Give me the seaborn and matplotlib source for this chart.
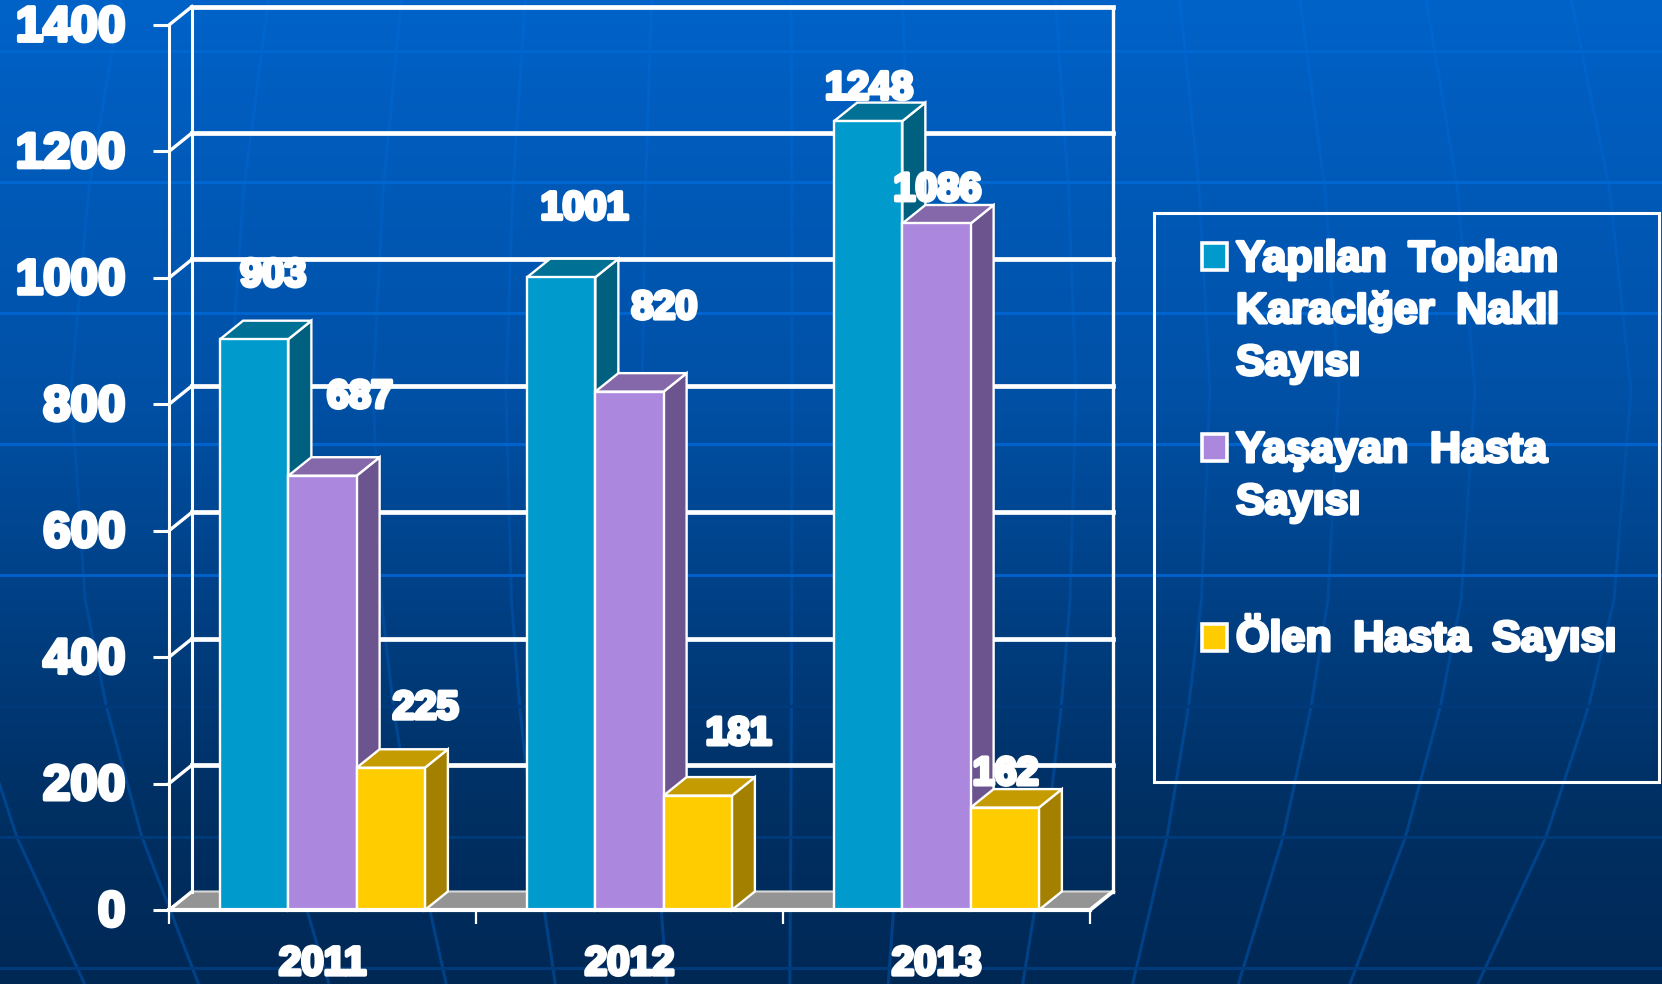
import numpy as np
import pandas as pd
import seaborn as sns
import matplotlib.pyplot as plt
import matplotlib.patheffects as pe
from matplotlib.collections import LineCollection
from matplotlib.patches import Polygon, Rectangle
from matplotlib.transforms import ScaledTranslation

W, H = 1662, 984

years = ["2011", "2012", "2013"]
toplam = [903, 1001, 1248]
yasayan = [687, 820, 1086]
olen = [225, 181, 162]
series_names = ["Yapılan Toplam Karaciğer Nakli Sayısı", "Yaşayan Hasta Sayısı", "Ölen Hasta Sayısı"]
y_ticks = [0, 200, 400, 600, 800, 1000, 1200, 1400]

front_colors = ["#009ACC", "#AB87DE", "#FFCC00"]
side_colors = ["#006080", "#6C558E", "#A38000"]
top_colors = ["#007095", "#8468A9", "#C49B00"]

# label offsets from each bar top, in pixels (per series, per year)
label_dx = [[19, 23.5, 1], [37.5, 35, 1], [35, 41, 1]]
label_dy = [[64, 69, 33], [79, 84, 34], [60, 62, 34]]

# backdrop: gradient stops, horizontal rules, globe meridians
grad_y = [0, 400, 600, 800, 984]
grad_r = [0, 0, 0, 0, 0]
grad_g = [98, 80, 64, 48, 40]
grad_b = [200, 165, 133, 100, 85]
rule_y = [50.7, 181.7, 312.7, 443.7, 574.7, 705.7, 836.7, 967.7]
rule_colors = ["#0066D0", "#0066D0", "#0064CE", "#0062CC", "#0060C8", "#003A7C", "#003A78", "#003A78"]
meridians = [-848, -709, -550, -407, -274, -138, 12, 132, 296, 430, 559, 695, 851]
bulge_y = [0, 190, 390, 600, 707, 837, 984]
bulge_f = [0.93, 0.975, 1.0, 0.98, 0.95, 0.90, 0.82]

sns.set_style("white")
plt.rcParams["font.family"] = ["Liberation Sans", "DejaVu Sans"]
plt.rcParams["font.weight"] = "bold"

fig = plt.figure(figsize=(W / 100, H / 100), dpi=100)


def bg_color(y):
    return np.stack([np.interp(y, grad_y, grad_r), np.interp(y, grad_y, grad_g), np.interp(y, grad_y, grad_b)], -1) / 255


# backdrop axes works in plain image pixels
bg = fig.add_axes([0, 0, 1, 1])
rows = np.arange(H)
bg.imshow(bg_color(rows)[:, None, :], aspect="auto", extent=[0, W, H, 0], zorder=0)
bg.set_xlim(0, W)
bg.set_ylim(H, 0)
bg.axis("off")

ys = np.arange(0, H + 8, 8.0)
for k in meridians:
    xs = 780 + k * np.interp(ys, bulge_y, bulge_f)
    pts = np.column_stack([xs, ys])
    segs = np.stack([pts[:-1], pts[1:]], 1)
    mid = (ys[:-1] + ys[1:]) / 2
    boost = np.interp(mid, [0, 500, 800, 984], [0.022, 0.03, 0.10, 0.12])
    cols = bg_color(mid)
    cols[:, 1] += boost * 0.8
    cols[:, 2] += boost * 1.6
    bg.add_collection(LineCollection(segs, colors=np.clip(cols, 0, 1), linewidths=2.2, zorder=1))
for y, c in zip(rule_y, rule_colors):
    bg.axhline(y, color=c, lw=2.2, zorder=2)

# chart axes, placed so the front plane sits where it does in the picture
ax = fig.add_axes([169 / W, 1 - 910 / H, (1090 - 169) / W, (910 - 25) / H])
ax.patch.set_alpha(0)

df = pd.DataFrame({
    "year": years * 3,
    "value": toplam + yasayan + olen,
    "series": sum([[s] * 3 for s in series_names], []),
})
sns.barplot(data=df, x="year", y="value", hue="series", hue_order=series_names, palette=front_colors,
            saturation=1, width=0.667, gap=0, legend=False, ax=ax, edgecolor="white", linewidth=1.7)
ax.set_xlim(-0.5, 2.5)
ax.set_ylim(0, 1400)
ax.set_xlabel("")
ax.set_ylabel("")

depth_x = 23 / 307
depth_y = 18.5 / 885 * 1400
line_kw = dict(color="white", clip_on=False, solid_capstyle="projecting")

# walls, floor and gridlines behind the bars
x0, x1 = -0.5, 2.5
floor = Polygon([(x0, 0), (x1, 0), (x1 + depth_x, depth_y), (x0 + depth_x, depth_y)], closed=True,
                facecolor="#949494", edgecolor="#d8d8d8", lw=1.5, clip_on=False, zorder=1)
ax.add_patch(floor)
for t in y_ticks:
    if t > 0:
        ax.plot([x0 + depth_x, x1 + depth_x], [t + depth_y, t + depth_y], lw=3.4, zorder=2, **line_kw)
    ax.plot([x0, x0 + depth_x], [t, t + depth_y], lw=2.4, zorder=2, **line_kw)
ax.plot([x0 + depth_x, x0 + depth_x], [depth_y, 1400 + depth_y], lw=2.2, zorder=2, **line_kw)
ax.plot([x1 + depth_x, x1 + depth_x], [depth_y, 1400 + depth_y], lw=2.4, zorder=2, **line_kw)
ax.plot([x1, x1 + depth_x], [0, depth_y], lw=2.8, zorder=2, **line_kw)

# extrude each seaborn bar; every label goes just under its own bar
outline = [pe.withStroke(linewidth=2.8, foreground="white")]
for i, bars in enumerate(ax.containers):
    z = 5 + 2 * i
    for j, bar in enumerate(bars):
        left, w, top = bar.get_x(), bar.get_width(), bar.get_height()
        right = left + w
        bar.set_zorder(z + 0.2)
        ax.add_patch(Polygon([(right, 0), (right + depth_x, depth_y), (right + depth_x, top + depth_y), (right, top)],
                             closed=True, facecolor=side_colors[i], edgecolor="white", lw=1.7, zorder=z, clip_on=False))
        ax.add_patch(Polygon([(left, top), (left + depth_x, top + depth_y), (right + depth_x, top + depth_y), (right, top)],
                             closed=True, facecolor=top_colors[i], edgecolor="white", lw=1.7, zorder=z, clip_on=False))
        ax.annotate(str(int(top)), (left + w / 2, top), xytext=(label_dx[i][j], label_dy[i][j]), textcoords="offset pixels",
                    ha="center", va="center", color="white", fontsize=28.5, fontweight="bold", zorder=z - 1,
                    annotation_clip=False, path_effects=outline)

# axes furniture
for name in ["top", "right"]:
    ax.spines[name].set_visible(False)
ax.spines["left"].set_color("white")
ax.spines["left"].set_linewidth(2.2)
ax.spines["left"].set_zorder(20)
ax.spines["bottom"].set_color("white")
ax.spines["bottom"].set_linewidth(3.0)
ax.spines["bottom"].set_zorder(20)
ax.set_yticks(y_ticks)
ax.set_xticks([0, 1, 2])
ax.set_xticklabels(years)
ax.set_xticks([-0.5, 0.5, 1.5, 2.5], minor=True)
ax.tick_params(axis="y", length=11.5, width=2.2, color="white", labelcolor="white", labelsize=35.5, pad=20, left=True)
ax.tick_params(axis="x", which="major", length=0, labelcolor="white", labelsize=29, pad=25)
ax.tick_params(axis="x", which="minor", length=10, width=1.6, color="white", bottom=True)
for lab in ax.get_xticklabels():
    lab.set_fontweight("bold")
    lab.set_path_effects(outline)
nudge_up = ScaledTranslation(0, 1.5 / 100, fig.dpi_scale_trans)
for lab in ax.get_yticklabels():
    lab.set_fontweight("bold")
    lab.set_path_effects(outline)
    lab.set_transform(lab.get_transform() + nudge_up)

# legend, laid out by hand in pixel space on the backdrop axes
bg.add_patch(Rectangle((1154, 213), 505, 569, fill=False, edgecolor="white", lw=2.2, zorder=3))
legend_rows = [
    (front_colors[0], 241, [("Yapılan\u2002Toplam", 271), ("KaracIğer\u2002NakIl", 323), ("Sayısı", 375)]),
    (front_colors[1], 432, [("Yaşayan\u2002Hasta", 462), ("Sayısı", 514)]),
    (front_colors[2], 622, [("Ölen\u2002Hasta\u2002Sayısı", 651)]),
]
for color, sq_y, lines in legend_rows:
    bg.add_patch(Rectangle((1202, sq_y + 1.5), 25, 27, facecolor=color, edgecolor="white", lw=2.6, zorder=3))
    for text, base in lines:
        bg.text(1236, base, text, color="white", fontsize=31, fontweight="bold", va="baseline", ha="left",
                zorder=4, path_effects=[pe.withStroke(linewidth=2.2, foreground="white")])

fig.savefig("out.png", dpi=100)
